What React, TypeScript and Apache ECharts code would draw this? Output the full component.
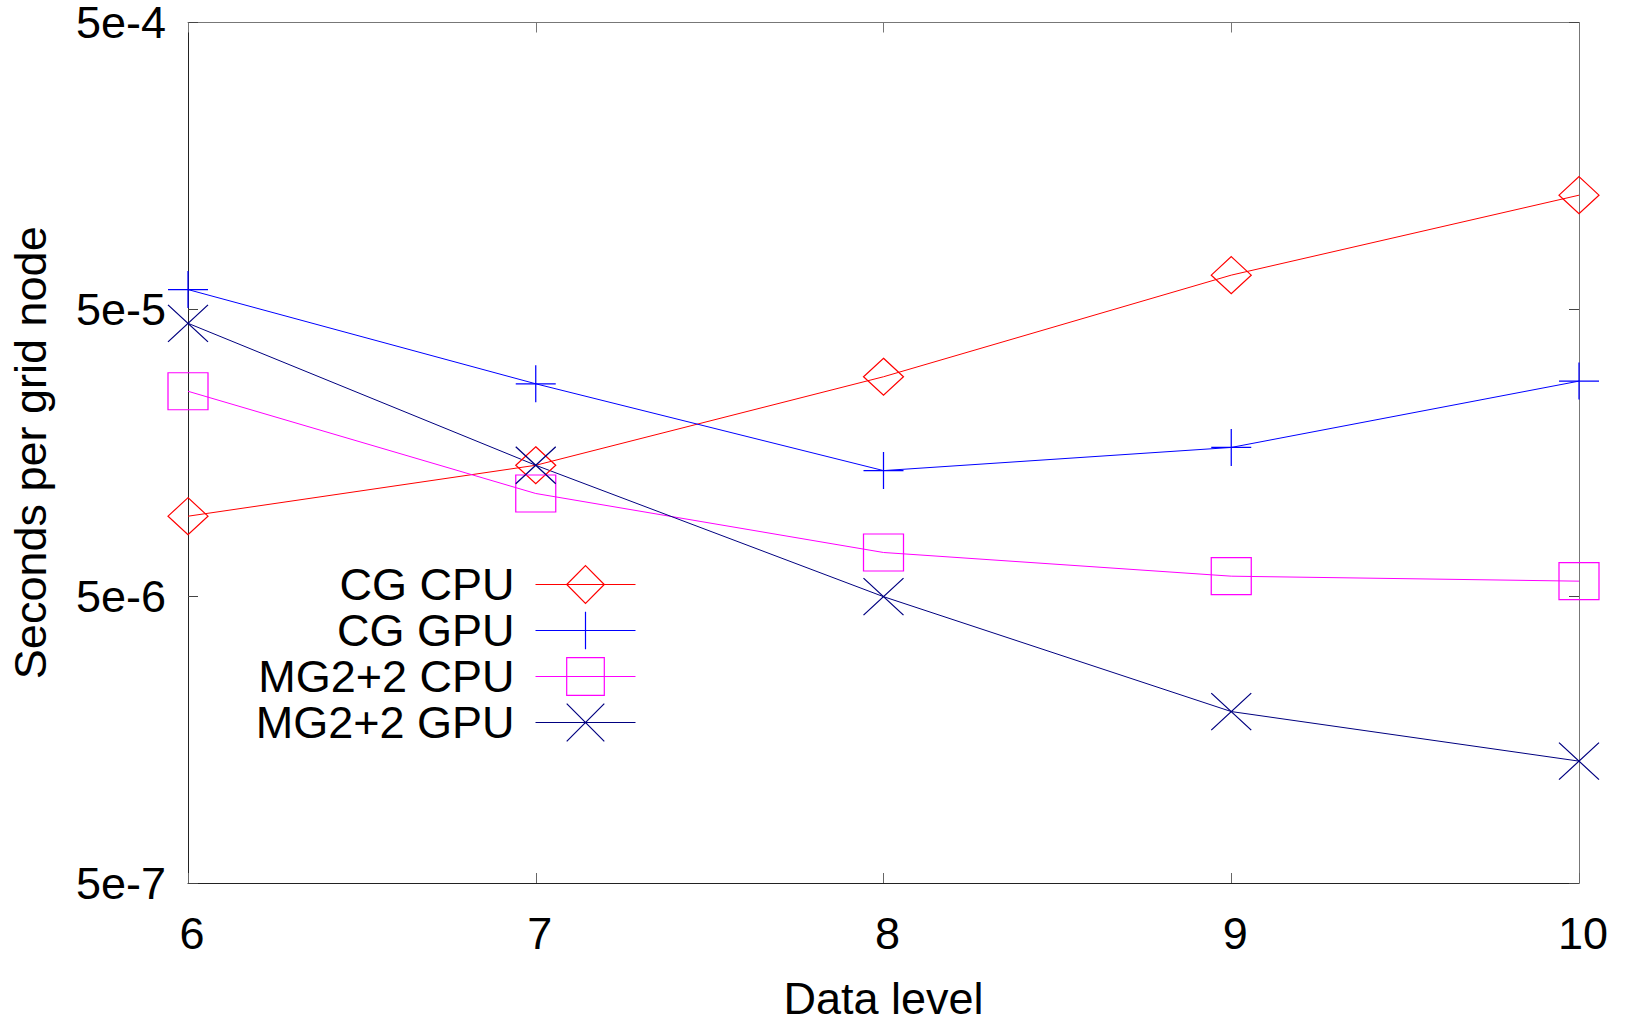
import React, { useEffect, useRef } from "react";
import * as echarts from "echarts";

const levels = [6, 7, 8, 9, 10];
const seriesNames = ["CG CPU", "CG GPU", "MG2+2 CPU", "MG2+2 GPU"];
const cgCpu = [9.5e-6, 1.43e-5, 2.91e-5, 6.58e-5, 1.25e-4];
const cgGpu = [5.86e-5, 2.75e-5, 1.37e-5, 1.65e-5, 2.81e-5];
const mgCpu = [2.59e-5, 1.14e-5, 7.1e-6, 5.87e-6, 5.64e-6];
const mgGpu = [4.47e-5, 1.43e-5, 4.98e-6, 1.98e-6, 1.33e-6];
const yTicks = [5e-7, 5e-6, 5e-5, 5e-4];

const colors = ["#ff0000", "#0000ff", "#ff00ff", "#000080"];
const symbols = [
  "diamond",
  "path://M50,0L50,100M0,50L100,50",
  "rect",
  "path://M0,0L100,100M100,0L0,100",
];
const values = [cgCpu, cgGpu, mgCpu, mgGpu];

const FONT = "Liberation Sans";

export default function App() {
  const ref = useRef<HTMLDivElement>(null);
  useEffect(() => {
    if (!ref.current) return;
    const chart = echarts.init(ref.current, undefined, { renderer: "svg" });
    const fmt = (v: number) => Number(v).toExponential(0);
    const series = seriesNames.map((name, i) => ({
      name,
      type: "line",
      data: levels.map((x, j) => [x, values[i][j]]),
      symbol: symbols[i],
      symbolSize: [40, 37],
      showAllSymbol: true,
      lineStyle: { color: colors[i], width: 1 },
      itemStyle: { color: "rgba(0,0,0,0)", borderColor: colors[i], borderWidth: 1.2 },
      emphasis: { disabled: true },
    }));
    chart.setOption({
      animation: false,
      backgroundColor: "#ffffff",
      textStyle: { fontFamily: FONT },
      grid: { left: 188, right: 49, top: 21, bottom: 135, containLabel: false },
      legend: {
        orient: "vertical",
        align: "right",
        right: 992,
        top: 562,
        padding: 0,
        itemWidth: 100,
        itemHeight: 47,
        itemGap: 1,
        data: seriesNames,
        textStyle: {
          fontSize: 45,
          lineHeight: 44,
          fontFamily: FONT,
          color: "#000",
          padding: [0, 16, 0, 0],
        },
        itemStyle: { borderWidth: 1.2 },
        lineStyle: { width: 1 },
        selectedMode: false,
      },
      xAxis: [
        {
          type: "value",
          min: 6,
          max: 10,
          interval: 1,
          position: "bottom",
          name: "Data level",
          nameLocation: "middle",
          nameGap: 93,
          nameTextStyle: { fontSize: 45, fontFamily: FONT, color: "#000" },
          axisLine: { show: true, lineStyle: { color: "#222", width: 1 } },
          axisTick: { show: true, inside: true, length: 10, lineStyle: { color: "#666" } },
          axisLabel: {
            fontSize: 45,
            lineHeight: 44,
            fontFamily: FONT,
            color: "#000",
            margin: 28,
            padding: [0, 0, 0, 8],
          },
          splitLine: { show: false },
        },
        {
          type: "value",
          min: 6,
          max: 10,
          interval: 1,
          position: "top",
          axisLine: { show: true, lineStyle: { color: "#777", width: 1 } },
          axisTick: { show: true, inside: true, length: 10, lineStyle: { color: "#777" } },
          axisLabel: { show: false },
          splitLine: { show: false },
        },
      ],
      yAxis: [
        {
          type: "log",
          logBase: 10,
          min: 5e-7,
          max: 5e-4,
          position: "left",
          name: "Seconds per grid node",
          nameLocation: "middle",
          nameGap: 135,
          nameTextStyle: { fontSize: 45, fontFamily: FONT, color: "#000" },
          axisLine: { show: true, lineStyle: { color: "#222", width: 1 } },
          axisTick: {
            show: true,
            inside: true,
            length: 10,
            customValues: yTicks,
            lineStyle: { color: "#444" },
          },
          axisLabel: {
            fontSize: 45,
            lineHeight: 38,
            fontFamily: FONT,
            color: "#000",
            margin: 22,
            customValues: yTicks,
            formatter: fmt,
          },
          minorTick: { show: false },
          splitLine: { show: false },
        },
        {
          type: "log",
          logBase: 10,
          min: 5e-7,
          max: 5e-4,
          position: "right",
          axisLine: { show: true, lineStyle: { color: "#777", width: 1 } },
          axisTick: {
            show: true,
            inside: true,
            length: 10,
            customValues: yTicks,
            lineStyle: { color: "#444" },
          },
          axisLabel: { show: false, customValues: yTicks },
          minorTick: { show: false },
          splitLine: { show: false },
        },
      ],
      series,
    });
    return () => chart.dispose();
  }, []);
  return (
    <div
      ref={ref}
      style={{ position: "fixed", left: 0, top: 0, width: 1628, height: 1026 }}
    />
  );
}
